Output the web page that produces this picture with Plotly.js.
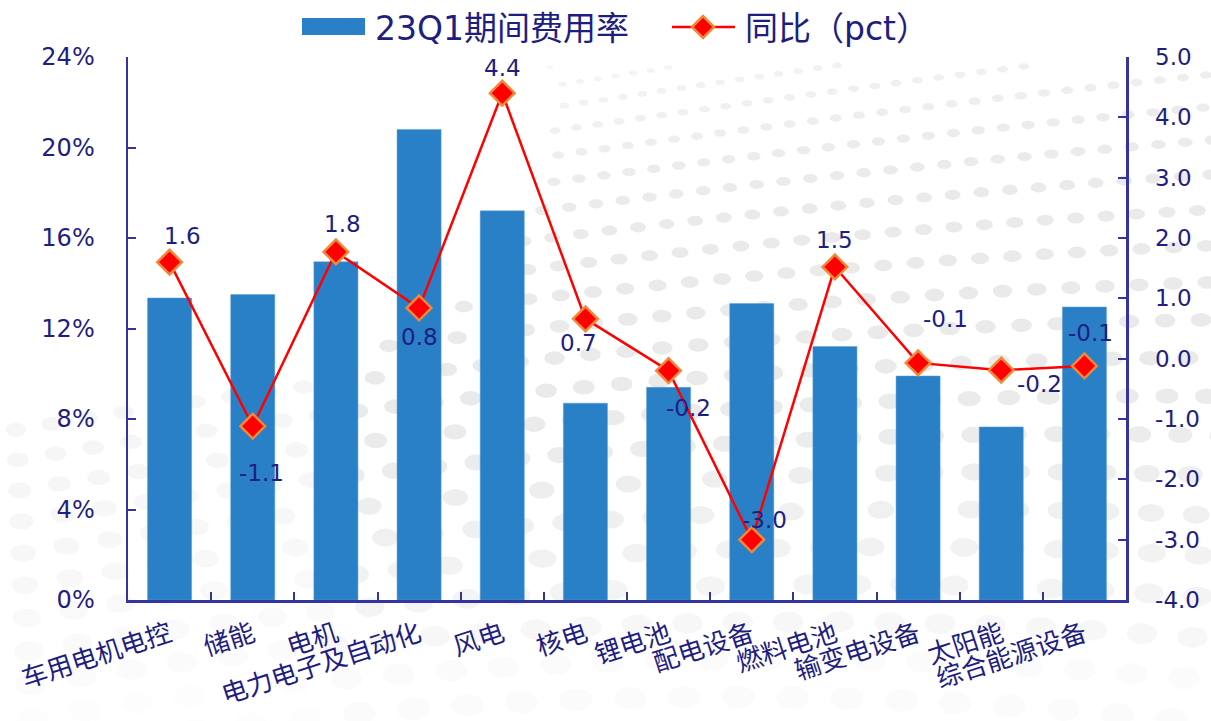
<!DOCTYPE html>
<html>
<head>
<meta charset="utf-8">
<script src="https://cdn.plot.ly/plotly-3.0.1.min.js"></script>
<style>
html,body{margin:0;padding:0;background:#fff;}
#wrap{position:relative;width:1211px;height:721px;}
#bg{position:absolute;left:0;top:0;}
#chart{position:absolute;left:0;top:0;width:1211px;height:721px;}
</style>
</head>
<body>
<div id="wrap">
<svg id="bg" width="1211" height="721" xmlns="http://www.w3.org/2000/svg"></svg>
<div id="chart"></div>
</div>
<script>
// ---- data ----
const categories = ["车用电机电控","储能","电机","电力电子及自动化","风电","核电","锂电池","配电设备","燃料电池","输变电设备","太阳能","综合能源设备"];
const expenseRate = [0.1335, 0.135, 0.1495, 0.208, 0.172, 0.087, 0.094, 0.131, 0.112, 0.099, 0.0765, 0.1295];
const yoyPct = [1.6, -1.12, 1.77, 0.84, 4.4, 0.66, -0.2, -3.0, 1.52, -0.07, -0.19, -0.12];
const seriesNames = ["23Q1期间费用率", "同比（pct）"];
const leftTicks = [0, 0.04, 0.08, 0.12, 0.16, 0.20, 0.24];
const rightTicks = [-4, -3, -2, -1, 0, 1, 2, 3, 4, 5];

// ---- decorative dotted background (page decoration, not data) ----
(function drawBackground() {
  const svg = document.getElementById('bg');
  let out = '';
  const rows = 24;
  for (let r = 0; r < rows; r++) {
    const t = r / (rows - 1);
    const rx = 3 + 14 * t, ry = 1.6 + 10 * t;
    const step = rx * 3.0 + 5;
    for (let x = -20; x < 1240; x += step) {
      const base = 75 + 660 * Math.pow(t, 1.25);
      const y = base - 0.17 * (1 - t) * (x - 420) + 0.00012 * t * (x - 700) * (x - 700);
      if (y < 65 || y > 735) continue;
      const dx = (x - 80) / 470, dy = (y - 120) / 290;
      if (dx * dx + dy * dy < 1) continue;
      let op = 0.12 + 0.5 * Math.pow(Math.sin(Math.PI * Math.min(t * 1.1, 1)), 0.8);
      if (x < 330) op *= 0.45;
      out += `<ellipse cx="${x.toFixed(1)}" cy="${y.toFixed(1)}" rx="${rx.toFixed(1)}" ry="${ry.toFixed(1)}" fill="#dcdcdc" fill-opacity="${Math.min(op, 0.6).toFixed(2)}"/>`;
    }
  }
  svg.innerHTML = out;
})();

// ---- styling ----
const navy = '#1e1e80';
const axisCol = '#3434a0';
const fontFam = 'DejaVu Sans, "Noto Sans CJK SC", sans-serif';
const labelDx = [13, 9, 7, 0, 0, -7, 20, 13, 0, 27, 38, 6];
const labelDy = [-26, 47, -28, 29, -25, 24, 37, -20, -27, -44, 14, -33];

const bars = {
  type: 'bar', x: categories, y: expenseRate, name: seriesNames[0],
  marker: {color: '#2a80c6', line: {color: '#5a9fd8', width: 0.5}},
  yaxis: 'y', hoverinfo: 'skip', showlegend: false
};
const line = {
  type: 'scatter', mode: 'lines+markers', x: categories, y: yoyPct, name: seriesNames[1],
  yaxis: 'y2', line: {color: '#ff0000', width: 2.5},
  marker: {symbol: 'diamond', size: 19, color: '#ff0000', line: {color: '#f0883a', width: 2.5}},
  hoverinfo: 'skip', showlegend: false, cliponaxis: false
};

const annotations = yoyPct.map((v, i) => ({
  x: categories[i], y: v, xref: 'x', yref: 'y2', showarrow: false,
  text: v.toFixed(1), xshift: labelDx[i], yshift: -labelDy[i],
  font: {family: fontFam, size: 23, color: navy}
}));

// custom legend (paper coords): plot area 128..1126 px, 57..600 px
const px = p => (p - 128) / 998;
const py = p => (600 - p) / 543;
annotations.push({
  x: px(373), y: py(28), xref: 'paper', yref: 'paper', xanchor: 'left', yanchor: 'middle',
  showarrow: false, text: seriesNames[0], font: {family: fontFam, size: 33, color: navy}
});
annotations.push({
  x: px(743), y: py(28), xref: 'paper', yref: 'paper', xanchor: 'left', yanchor: 'middle',
  showarrow: false, text: seriesNames[1], font: {family: fontFam, size: 33, color: navy}
});
const cx = px(703), cy = py(27), hx = 11 / 998, hy = 11 / 543;
const shapes = [
  {type: 'rect', xref: 'paper', yref: 'paper', x0: px(302), x1: px(365), y0: py(35), y1: py(18),
   fillcolor: '#2a80c6', line: {width: 0}},
  {type: 'line', xref: 'paper', yref: 'paper', x0: px(672), x1: px(735), y0: cy, y1: cy,
   line: {color: '#ff0000', width: 2.5}},
  {type: 'path', xref: 'paper', yref: 'paper',
   path: `M${cx - hx},${cy} L${cx},${cy + hy} L${cx + hx},${cy} L${cx},${cy - hy} Z`,
   fillcolor: '#ff0000', line: {color: '#f0883a', width: 2.5}}
];

const tickFont = {family: fontFam, size: 24, color: navy};
const layout = {
  width: 1211, height: 721,
  margin: {l: 128, r: 85, t: 57, b: 121, pad: 0},
  paper_bgcolor: 'rgba(0,0,0,0)', plot_bgcolor: 'rgba(0,0,0,0)',
  showlegend: false,
  bargap: 0.47,
  font: {family: fontFam, color: navy},
  xaxis: {
    type: 'category', range: [-0.5, categories.length - 0.5], tickson: 'boundaries',
    ticks: 'inside', ticklen: 8, tickwidth: 2, tickcolor: axisCol,
    showline: true, linecolor: axisCol, linewidth: 2.5, showgrid: false, zeroline: false,
    tickangle: -18, tickfont: {family: fontFam, size: 26, color: navy}, ticklabelstandoff: 7,
    fixedrange: true
  },
  yaxis: {
    range: [0, 0.24], tickvals: leftTicks, tickformat: '.0%', ticks: 'inside', ticklen: 8, tickwidth: 2,
    tickcolor: axisCol, showline: true, linecolor: axisCol, linewidth: 2.5, showgrid: false, zeroline: false,
    tickfont: tickFont, ticklabelstandoff: 26, fixedrange: true
  },
  yaxis2: {
    overlaying: 'y', side: 'right', range: [-4, 5], tickvals: rightTicks,
    ticktext: rightTicks.map(v => v.toFixed(1)),
    ticks: 'inside', ticklen: 8, tickwidth: 2, tickcolor: axisCol, showline: true, linecolor: axisCol,
    linewidth: 2.5, showgrid: false, zeroline: false,
    tickfont: {family: fontFam, size: 23, color: navy}, ticklabelstandoff: 22, fixedrange: true
  },
  annotations: annotations,
  shapes: shapes
};

Plotly.newPlot('chart', [bars, line], layout, {displayModeBar: false, staticPlot: true});
</script>
</body>
</html>
